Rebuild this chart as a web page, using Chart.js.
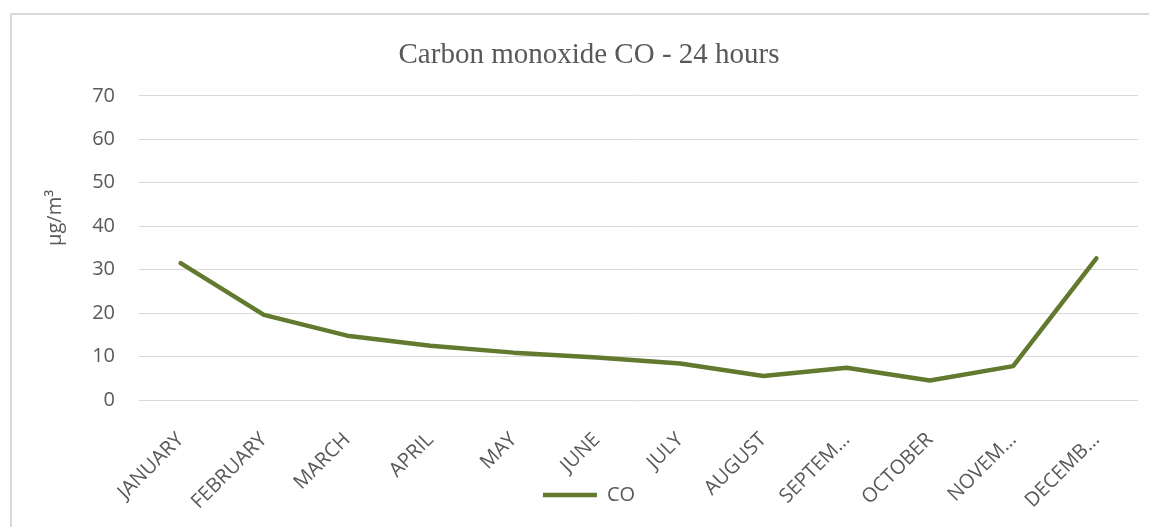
<!DOCTYPE html>
<html>
<head>
<meta charset="utf-8">
<script src="https://cdn.jsdelivr.net/npm/chart.js@4"></script>
<style>
    html, body { margin: 0; padding: 0; background: #fff; overflow: hidden; }
    #frame {
        position: absolute; left: 10px; top: 13px;
        width: 1200px; height: 600px;
        border: 2px solid #d9d9d9;
    }
    #wrap { position: absolute; left: 0; top: 0; width: 1149px; height: 527px; }
</style>
</head>
<body>
<div id="frame"></div>
<div id="wrap"><canvas id="coChart"></canvas></div>
<script>
// Monthly 24h CO values, as shown on the category axis (Excel truncates long names)
const months = ['JANUARY', 'FEBRUARY', 'MARCH', 'APRIL', 'MAY', 'JUNE', 'JULY',
    'AUGUST', 'SEPTEM…', 'OCTOBER', 'NOVEM…', 'DECEMB…'];
const coValues = [31.5, 19.6, 14.8, 12.5, 10.9, 9.8, 8.4, 5.5, 7.4, 4.5, 7.8, 32.6];
const yTicks = [0, 10, 20, 30, 40, 50, 60, 70];

const textColor = '#595959';
const gridColor = '#d9d9d9';
const lineColor = '#617a2f';
const sansFont = "'Open Sans', sans-serif";

// the rotated month labels run down into the legend row, like in Excel,
// so let them draw below the x axis box instead of being clipped
const labelRoom = {
    id: 'labelRoom',
    afterLayout(chart) {
        chart.scales.x.bottom = chart.height;
    }
};

const ctx = document.getElementById('coChart');

new Chart(ctx, {
    type: 'line',
    data: {
        labels: months,
        datasets: [{
            label: 'CO',
            data: coValues,
            borderColor: lineColor,
            backgroundColor: lineColor,
            borderWidth: 4.5,
            borderCapStyle: 'round',
            borderJoinStyle: 'round',
            tension: 0,
            pointRadius: 0,
            pointHoverRadius: 0,
            fill: false
        }]
    },
    options: {
        responsive: true,
        maintainAspectRatio: false,
        animation: false,
        layout: {
            padding: { top: 28, left: 40, right: 11, bottom: 12 }
        },
        scales: {
            x: {
                offset: true,
                grid: { display: false },
                border: { display: false },
                ticks: {
                    autoSkip: false,
                    minRotation: 45,
                    maxRotation: 45,
                    padding: 20,
                    color: textColor,
                    font: { family: sansFont, size: 20 }
                },
                afterFit: s => { s.height = 75; }
            },
            y: {
                min: 0,
                max: yTicks[yTicks.length - 1],
                afterBuildTicks: s => { s.ticks = yTicks.map(v => ({ value: v })); },
                grid: { color: gridColor, lineWidth: 1, drawTicks: false },
                border: { display: false },
                ticks: {
                    padding: 24,
                    color: textColor,
                    font: { family: sansFont, size: 20 }
                },
                title: {
                    display: true,
                    // leading spaces lift the title like Excel places it
                    text: '\u2002\u2002\u2002\u2002\u2002\u2002µg/m³',
                    color: textColor,
                    padding: { top: 3, bottom: 0 },
                    font: { family: sansFont, size: 20 }
                },
                afterFit: s => { s.width = 99; }
            }
        },
        plugins: {
            title: {
                display: true,
                text: 'Carbon monoxide CO - 24 hours',
                color: textColor,
                font: { family: "'Liberation Serif', 'Times New Roman', serif", size: 29, weight: 'normal' },
                padding: { top: 10, bottom: 23 }
            },
            legend: {
                position: 'bottom',
                labels: {
                    usePointStyle: true,
                    pointStyle: 'line',
                    pointStyleWidth: 54,
                    padding: 10,
                    color: textColor,
                    font: { family: sansFont, size: 20 }
                }
            },
            tooltip: { enabled: false }
        }
    },
    plugins: [labelRoom]
});
</script>
</body>
</html>
